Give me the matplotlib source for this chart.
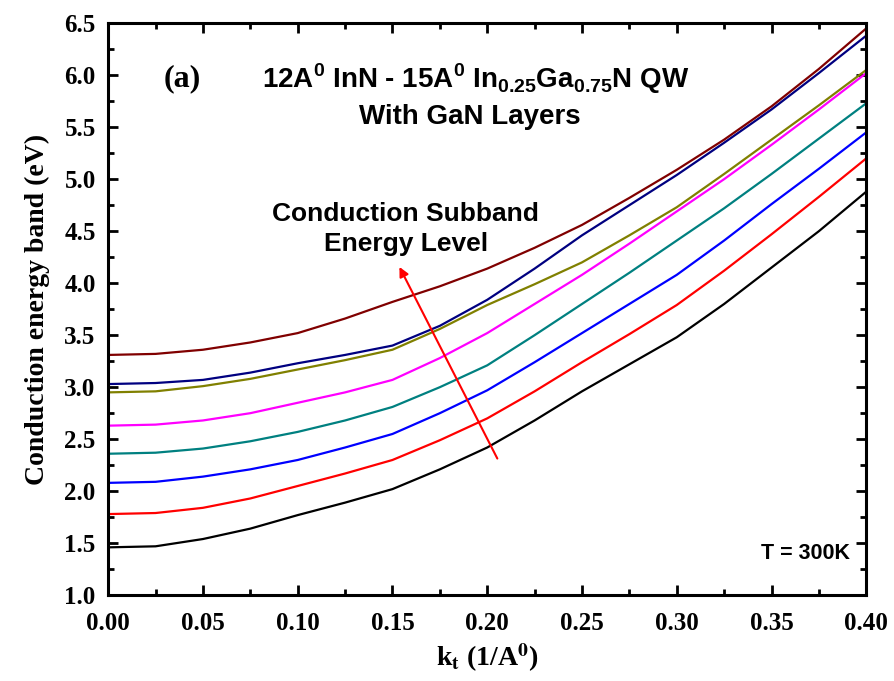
import matplotlib.pyplot as plt
from matplotlib.ticker import MultipleLocator

# wave vector k_t (1/A0)
k = [0.0, 0.025, 0.05, 0.075, 0.10, 0.125, 0.15, 0.175, 0.20,
     0.225, 0.25, 0.275, 0.30, 0.325, 0.35, 0.375, 0.40]

# conduction subband energies (eV), lowest to highest
e_black = [1.46, 1.47, 1.54, 1.64, 1.77, 1.89, 2.02, 2.21, 2.42,
           2.68, 2.96, 3.22, 3.48, 3.80, 4.15, 4.50, 4.88]
e_red = [1.78, 1.79, 1.84, 1.93, 2.05, 2.17, 2.30, 2.49, 2.70,
         2.96, 3.24, 3.51, 3.79, 4.12, 4.47, 4.83, 5.20]
e_blue = [2.08, 2.09, 2.14, 2.21, 2.30, 2.42, 2.55, 2.75, 2.97,
          3.24, 3.52, 3.80, 4.08, 4.41, 4.76, 5.10, 5.45]
e_teal = [2.36, 2.37, 2.41, 2.48, 2.57, 2.68, 2.81, 3.00, 3.21,
          3.50, 3.80, 4.10, 4.41, 4.72, 5.05, 5.39, 5.73]
e_magenta = [2.63, 2.64, 2.68, 2.75, 2.85, 2.95, 3.07, 3.28, 3.52,
             3.80, 4.08, 4.38, 4.69, 5.00, 5.33, 5.67, 6.02]
e_olive = [2.95, 2.96, 3.01, 3.08, 3.17, 3.26, 3.36, 3.56, 3.79,
           3.99, 4.20, 4.46, 4.73, 5.05, 5.38, 5.71, 6.05]
e_navy = [3.03, 3.04, 3.07, 3.14, 3.23, 3.31, 3.40, 3.59, 3.84,
          4.14, 4.46, 4.75, 5.04, 5.35, 5.67, 6.02, 6.38]
e_darkred = [3.31, 3.32, 3.36, 3.43, 3.52, 3.66, 3.82, 3.97, 4.14,
             4.34, 4.56, 4.82, 5.09, 5.38, 5.70, 6.06, 6.45]

series = [e_black, e_red, e_blue, e_teal, e_magenta, e_olive, e_navy, e_darkred]
couleurs = ['#000000', '#FF0000', '#0000FF', '#008080', '#FF00FF',
            '#808000', '#000080', '#800000']

serif = 'Liberation Serif'
sans = 'Liberation Sans'
# maths in the titles drawn with the sans font, maths in the x label with stix (Times-like)
plt.rcParams['mathtext.fontset'] = 'custom'
plt.rcParams['mathtext.rm'] = 'Liberation Sans:bold'
plt.rcParams['mathtext.bf'] = 'Liberation Sans:bold'

fig = plt.figure(figsize=(8.94, 6.81), dpi=100)
ax = fig.add_axes([0.121, 0.126, 0.848, 0.840])

for e, c in zip(series, couleurs):
    ax.plot(k, e, color=c, linewidth=1.6)

ax.set_xlim(0.0, 0.40)
ax.set_ylim(1.0, 6.5)
ax.xaxis.set_major_locator(MultipleLocator(0.05))
ax.xaxis.set_minor_locator(MultipleLocator(0.025))
ax.yaxis.set_major_locator(MultipleLocator(0.5))
ax.yaxis.set_minor_locator(MultipleLocator(0.25))
ax.tick_params(which='both', direction='in', top=True, right=True, width=2)
ax.tick_params(which='major', length=7)
ax.tick_params(which='minor', length=4)
ax.tick_params(axis='x', which='major', pad=12)
ax.tick_params(axis='y', which='major', pad=9)
for s in ax.spines.values():
    s.set_linewidth(2.2)

ax.set_xticklabels(['%.2f' % v for v in ax.get_xticks()])
ax.set_yticklabels(['%.1f' % v for v in ax.get_yticks()])
for lab in ax.get_xticklabels() + ax.get_yticklabels():
    lab.set_fontfamily(serif)
    lab.set_fontweight('bold')
    lab.set_fontsize(18)

ax.set_xlabel(r'k$_\mathbf{t}$ (1/A$^\mathbf{0}$)', fontfamily=serif,
              fontweight='bold', fontsize=20, labelpad=5, math_fontfamily='stix')
ax.set_ylabel('Conduction energy band (eV)', fontfamily=serif,
              fontweight='bold', fontsize=20, labelpad=10)

ax.text(0.029, 5.97, '(a)', fontfamily=serif, fontweight='bold', fontsize=23,
        va='center')
ax.text(0.194, 5.97, r'12A$^\mathbf{0}$ InN - 15A$^\mathbf{0}$ In$_\mathbf{0.25}$Ga$_\mathbf{0.75}$N QW',
        fontfamily=sans, fontweight='bold', fontsize=20, ha='center', va='center',
        math_fontfamily='custom')
ax.text(0.191, 5.60, 'With GaN Layers', fontfamily=sans, fontweight='bold',
        fontsize=20, ha='center', va='center')
ax.text(0.157, 4.52, 'Conduction Subband\nEnergy Level', fontfamily=sans,
        fontweight='bold', fontsize=19, ha='center', va='center', linespacing=1.3)
ax.annotate('', xy=(0.153, 4.18), xytext=(0.206, 2.29),
            arrowprops=dict(arrowstyle='-|>', color='#FF0000', lw=1.5,
                            mutation_scale=14))
ax.text(0.368, 1.40, 'T = 300K', fontfamily=sans, fontweight='bold',
        fontsize=15.5, ha='center', va='center')

plt.savefig('out.png', dpi=100)
